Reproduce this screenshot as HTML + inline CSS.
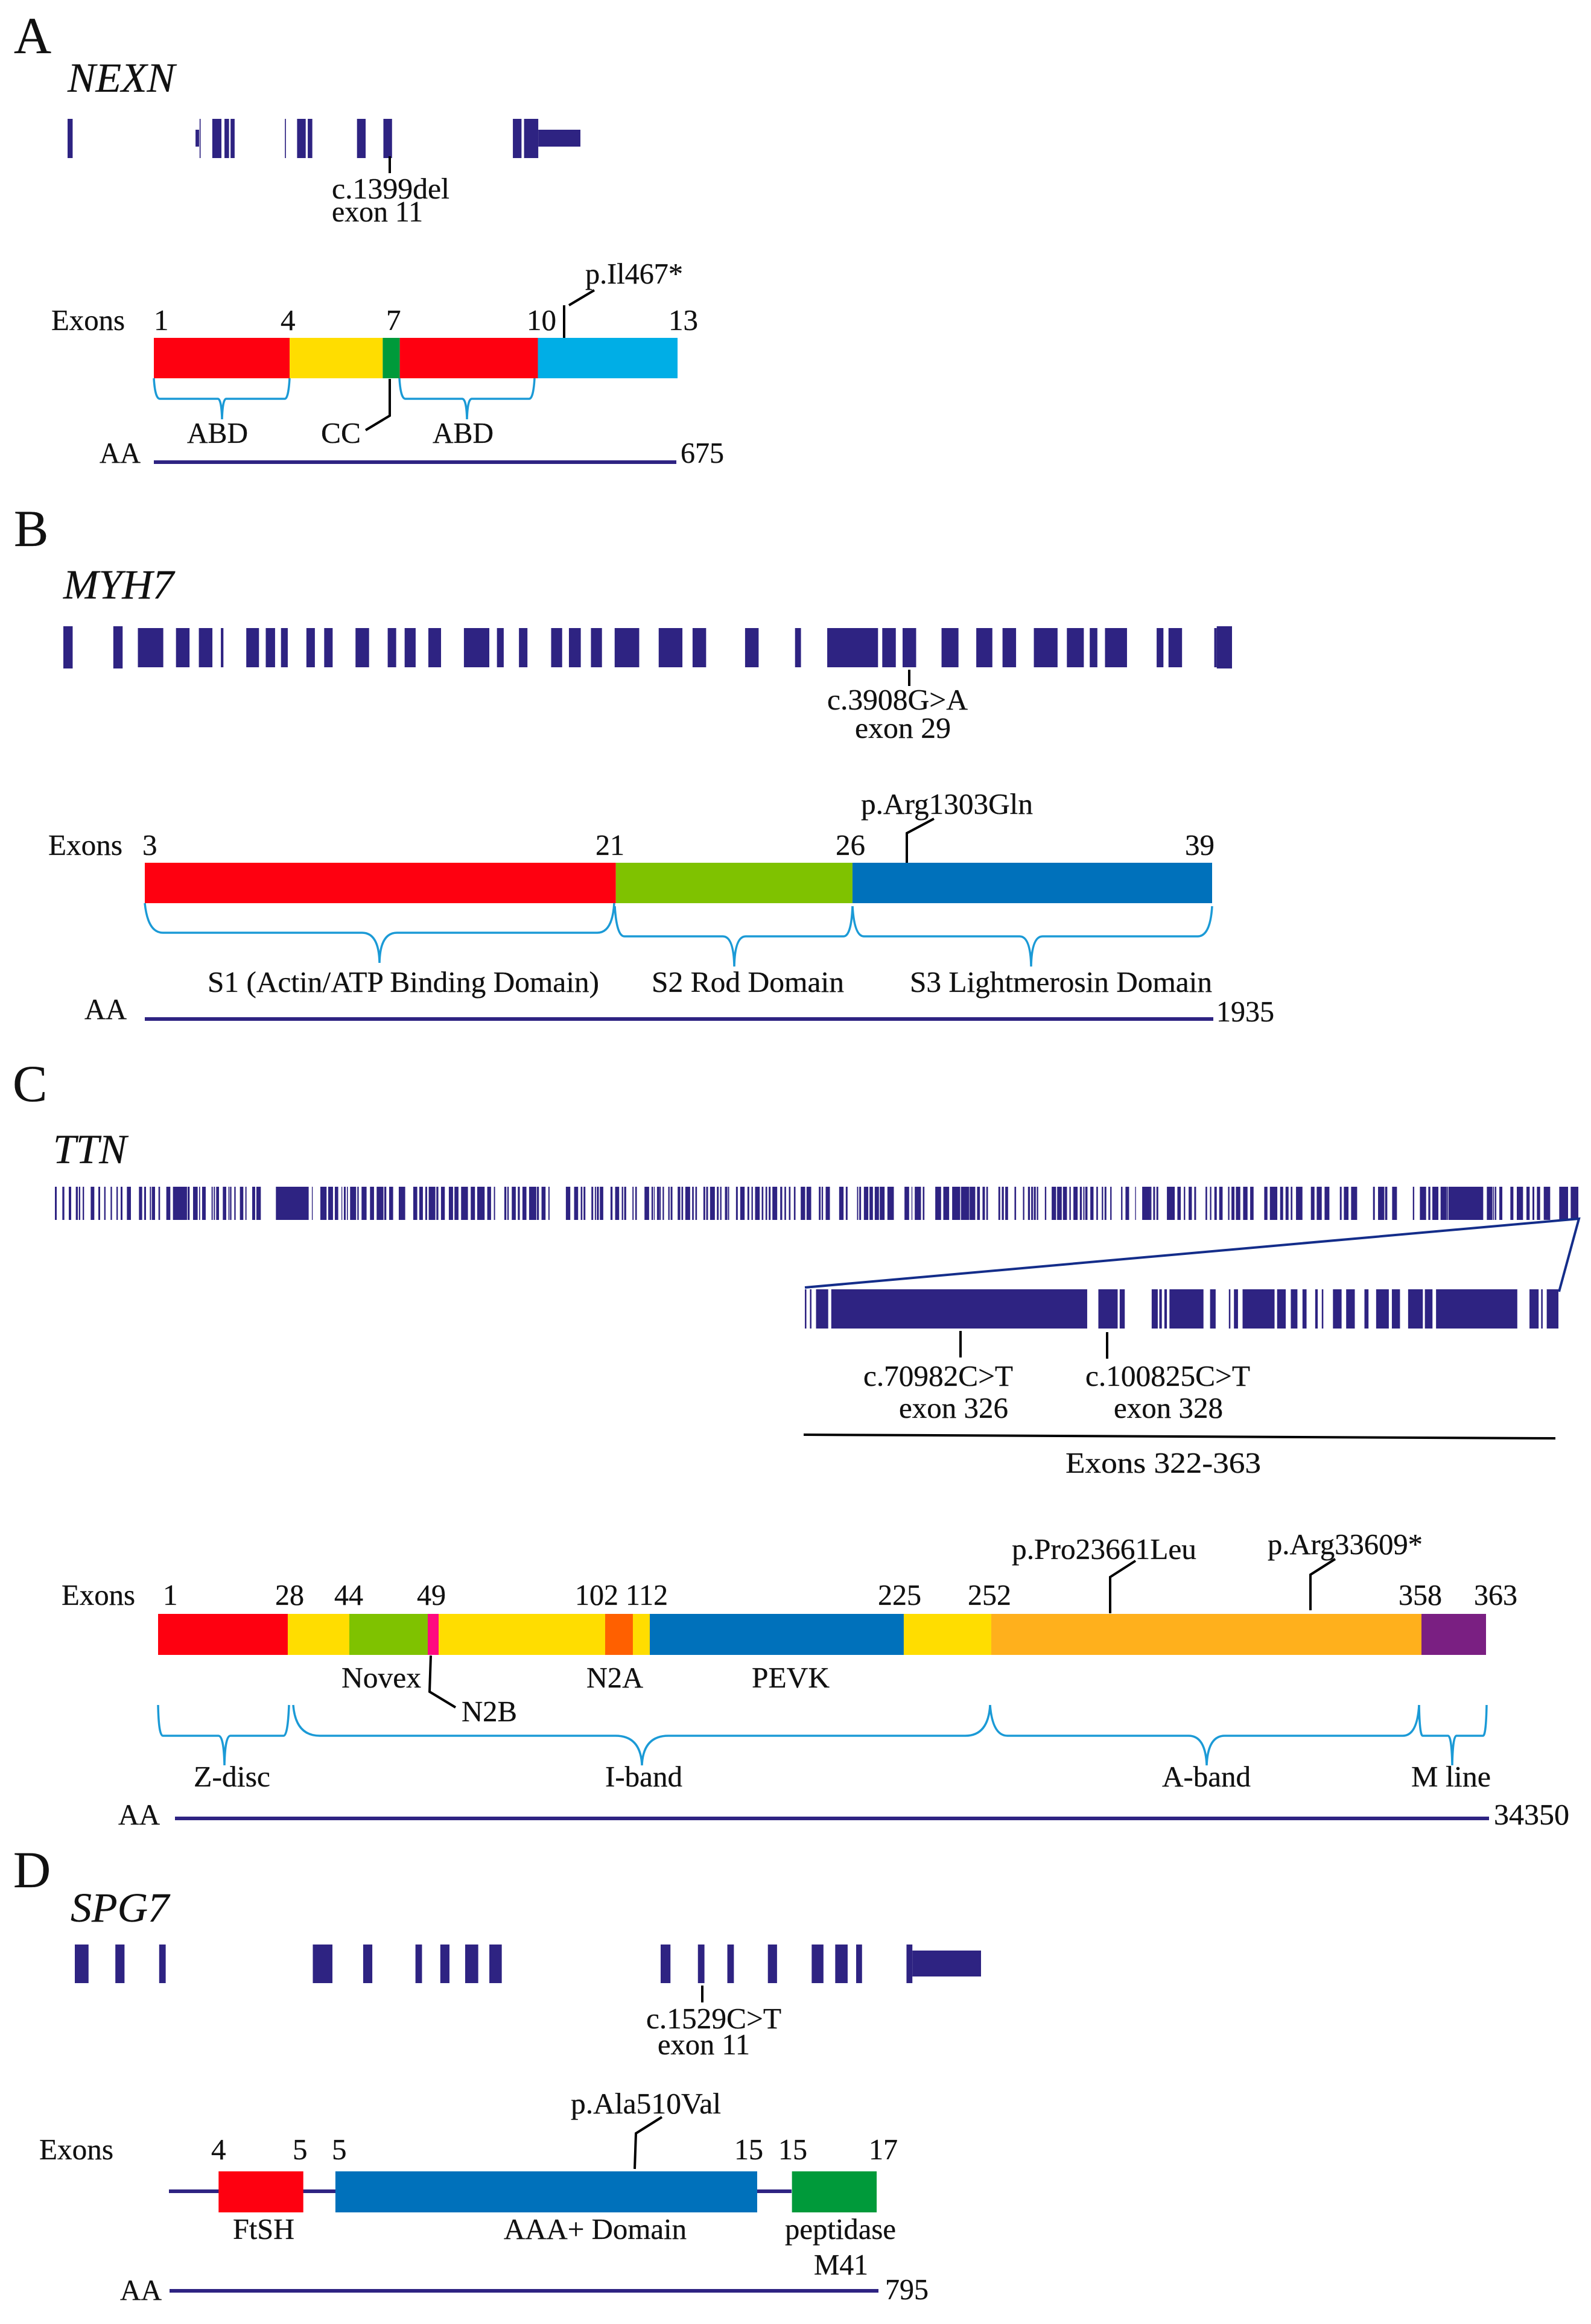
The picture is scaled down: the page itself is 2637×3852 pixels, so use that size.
<!DOCTYPE html>
<html lang="en">
<head>
<meta charset="utf-8">
<title>Gene and protein schematics: NEXN, MYH7, TTN, SPG7</title>
<style>
html,body{margin:0;padding:0;background:#fff;}
svg{display:block;}
text{font-family:"Liberation Serif","Times New Roman",serif;fill:#111;font-size:49px;stroke:#111;stroke-width:0.3;}
.p{font-size:86px;}
.g{font-size:69px;font-style:italic;}
.c{fill:none;stroke:#000;stroke-width:4;}
.b{fill:none;stroke:#1b9ad6;stroke-width:3.5;}
.a{stroke:#2e2382;stroke-width:6;}
</style>
</head>
<body>
<svg xmlns="http://www.w3.org/2000/svg" width="2637" height="3852" viewBox="0 0 2637 3852">
<rect x="0" y="0" width="2637" height="3852" fill="#fff"/>

<!-- Panel A -->
<g>
<text class="p" x="23" y="88">A</text>
<text class="g" x="112" y="152" textLength="178" lengthAdjust="spacingAndGlyphs">NEXN</text>
<g id="nexn-track"></g>
<path class="c" d="M646 259V287"/>
<text x="550" y="329" textLength="195" lengthAdjust="spacingAndGlyphs">c.1399del</text>
<text x="550" y="367" textLength="151" lengthAdjust="spacingAndGlyphs">exon 11</text>
<text x="85" y="547" textLength="122" lengthAdjust="spacingAndGlyphs">Exons</text>
<text x="255" y="547">1</text>
<text x="465" y="547">4</text>
<text x="640" y="547">7</text>
<text x="873" y="547" textLength="49" lengthAdjust="spacingAndGlyphs">10</text>
<text x="1108" y="547" textLength="49" lengthAdjust="spacingAndGlyphs">13</text>
<text x="970" y="470" textLength="162" lengthAdjust="spacingAndGlyphs">p.Il467*</text>
<path class="c" d="M935 560V506M943 506L985 481"/>
<g id="nexn-domains"></g>
<path class="b" d="M255 627Q257 661 265 661L361 661Q367 661 368 695Q369 661 375 661L472 661Q478 661 480 627"/>
<path class="b" d="M662 627Q664 661 672 661L766 661Q773 661 774 695Q775 661 782 661L877 661Q884 661 886 627"/>
<path class="c" d="M646 628V689L606 713"/>
<text x="310" y="734" textLength="101" lengthAdjust="spacingAndGlyphs">ABD</text>
<text x="532" y="734" textLength="66" lengthAdjust="spacingAndGlyphs">CC</text>
<text x="717" y="734" textLength="101" lengthAdjust="spacingAndGlyphs">ABD</text>
<text x="165" y="767" textLength="68" lengthAdjust="spacingAndGlyphs">AA</text>
<line class="a" x1="255" y1="766" x2="1121" y2="766"/>
<text x="1128" y="767" textLength="72" lengthAdjust="spacingAndGlyphs">675</text>
</g>

<!-- Panel B -->
<g>
<text class="p" x="23" y="905">B</text>
<text class="g" x="105" y="992" textLength="183" lengthAdjust="spacingAndGlyphs">MYH7</text>
<g id="myh7-track"></g>
<path class="c" d="M1507 1110V1137"/>
<text x="1371" y="1176" textLength="233" lengthAdjust="spacingAndGlyphs">c.3908G&gt;A</text>
<text x="1417" y="1223" textLength="159" lengthAdjust="spacingAndGlyphs">exon 29</text>
<text x="80" y="1417" textLength="123" lengthAdjust="spacingAndGlyphs">Exons</text>
<text x="236" y="1417">3</text>
<text x="987" y="1417" textLength="48" lengthAdjust="spacingAndGlyphs">21</text>
<text x="1385" y="1417" textLength="49" lengthAdjust="spacingAndGlyphs">26</text>
<text x="1964" y="1417" textLength="49" lengthAdjust="spacingAndGlyphs">39</text>
<text x="1427" y="1349" textLength="285" lengthAdjust="spacingAndGlyphs">p.Arg1303Gln</text>
<path class="c" d="M1503 1430V1381L1548 1357"/>
<g id="myh7-domains"></g>
<path class="b" d="M240 1497Q245 1546 270 1546L600 1546Q628 1546 629 1596Q630 1546 658 1546L990 1546Q1015 1546 1018 1497"/>
<path class="b" d="M1019 1502Q1022 1552 1035 1552L1198 1552Q1216 1552 1217 1602Q1218 1552 1236 1552L1398 1552Q1411 1552 1413 1502"/>
<path class="b" d="M1413 1502Q1416 1552 1432 1552L1690 1552Q1708 1552 1709 1602Q1710 1552 1728 1552L1985 1552Q2006 1552 2009 1502"/>
<text x="344" y="1644" textLength="649" lengthAdjust="spacingAndGlyphs">S1 (Actin/ATP Binding Domain)</text>
<text x="1080" y="1644" textLength="319" lengthAdjust="spacingAndGlyphs">S2 Rod Domain</text>
<text x="1508" y="1644" textLength="501" lengthAdjust="spacingAndGlyphs">S3 Lightmerosin Domain</text>
<text x="140" y="1689" textLength="70" lengthAdjust="spacingAndGlyphs">AA</text>
<line class="a" x1="240" y1="1689" x2="2011" y2="1689"/>
<text x="2016" y="1693" textLength="96" lengthAdjust="spacingAndGlyphs">1935</text>
</g>

<!-- Panel C -->
<g>
<text class="p" x="21" y="1825">C</text>
<text class="g" x="88" y="1928" textLength="122" lengthAdjust="spacingAndGlyphs">TTN</text>
<g id="ttn-track"></g>
<path d="M1334 2134L2617 2020L2584 2141" fill="none" stroke="#142d8a" stroke-width="4"/>
<g id="ttn-inset"></g>
<path class="c" d="M1592 2206V2250"/>
<path class="c" d="M1835 2208V2252"/>
<text x="1431" y="2297" textLength="248" lengthAdjust="spacingAndGlyphs">c.70982C&gt;T</text>
<text x="1490" y="2350" textLength="181" lengthAdjust="spacingAndGlyphs">exon 326</text>
<text x="1799" y="2297" textLength="273" lengthAdjust="spacingAndGlyphs">c.100825C&gt;T</text>
<text x="1846" y="2350" textLength="181" lengthAdjust="spacingAndGlyphs">exon 328</text>
<line x1="1332" y1="2378" x2="2578" y2="2384" stroke="#000" stroke-width="4"/>
<text x="1766" y="2441" textLength="324" lengthAdjust="spacingAndGlyphs">Exons 322-363</text>

<text x="1677" y="2584" textLength="306" lengthAdjust="spacingAndGlyphs">p.Pro23661Leu</text>
<text x="2101" y="2576" textLength="257" lengthAdjust="spacingAndGlyphs">p.Arg33609*</text>
<path class="c" d="M1840 2674V2614L1882 2587"/>
<path class="c" d="M2172 2669V2610L2213 2584"/>
<text x="102" y="2660" textLength="122" lengthAdjust="spacingAndGlyphs">Exons</text>
<text x="270" y="2660">1</text>
<text x="456" y="2660" textLength="48" lengthAdjust="spacingAndGlyphs">28</text>
<text x="554" y="2660" textLength="48" lengthAdjust="spacingAndGlyphs">44</text>
<text x="691" y="2660" textLength="48" lengthAdjust="spacingAndGlyphs">49</text>
<text x="953" y="2660" textLength="72" lengthAdjust="spacingAndGlyphs">102</text>
<text x="1037" y="2660" textLength="70" lengthAdjust="spacingAndGlyphs">112</text>
<text x="1455" y="2660" textLength="72" lengthAdjust="spacingAndGlyphs">225</text>
<text x="1604" y="2660" textLength="72" lengthAdjust="spacingAndGlyphs">252</text>
<text x="2318" y="2660" textLength="72" lengthAdjust="spacingAndGlyphs">358</text>
<text x="2443" y="2660" textLength="72" lengthAdjust="spacingAndGlyphs">363</text>
<g id="ttn-domains"></g>
<path class="c" d="M714 2744L712 2804L755 2830"/>
<text x="566" y="2797" textLength="132" lengthAdjust="spacingAndGlyphs">Novex</text>
<text x="972" y="2797" textLength="94" lengthAdjust="spacingAndGlyphs">N2A</text>
<text x="1246" y="2797" textLength="129" lengthAdjust="spacingAndGlyphs">PEVK</text>
<text x="765" y="2853" textLength="92" lengthAdjust="spacingAndGlyphs">N2B</text>
<path class="b" d="M262 2826Q263 2877 270 2877L362 2877Q371 2877 372 2926Q373 2877 382 2877L470 2877Q477 2877 479 2826"/>
<path class="b" d="M486 2826Q490 2877 530 2877L1020 2877Q1062 2877 1064 2926Q1066 2877 1108 2877L1600 2877Q1638 2877 1641 2826"/>
<path class="b" d="M1641 2826Q1645 2877 1670 2877L1970 2877Q1998 2877 2000 2926Q2002 2877 2030 2877L2325 2877Q2349 2877 2352 2826"/>
<path class="b" d="M2352 2826Q2353 2877 2358 2877L2400 2877Q2406 2877 2407 2926Q2408 2877 2414 2877L2458 2877Q2463 2877 2464 2826"/>
<text x="321" y="2961" textLength="127" lengthAdjust="spacingAndGlyphs">Z-disc</text>
<text x="1003" y="2961" textLength="128" lengthAdjust="spacingAndGlyphs">I-band</text>
<text x="1926" y="2961" textLength="147" lengthAdjust="spacingAndGlyphs">A-band</text>
<text x="2339" y="2961" textLength="132" lengthAdjust="spacingAndGlyphs">M line</text>
<text x="196" y="3024" textLength="69" lengthAdjust="spacingAndGlyphs">AA</text>
<line class="a" x1="290" y1="3014" x2="2468" y2="3014"/>
<text x="2476" y="3024" textLength="125" lengthAdjust="spacingAndGlyphs">34350</text>
</g>

<!-- Panel D -->
<g>
<text class="p" x="22" y="3128">D</text>
<text class="g" x="117" y="3185" textLength="163" lengthAdjust="spacingAndGlyphs">SPG7</text>
<g id="spg7-track"></g>
<path class="c" d="M1164 3291V3319"/>
<text x="1071" y="3362" textLength="224" lengthAdjust="spacingAndGlyphs">c.1529C&gt;T</text>
<text x="1090" y="3405" textLength="153" lengthAdjust="spacingAndGlyphs">exon 11</text>
<text x="946" y="3503" textLength="249" lengthAdjust="spacingAndGlyphs">p.Ala510Val</text>
<path class="c" d="M1052 3595L1054 3536L1097 3509"/>
<text x="65" y="3579" textLength="123" lengthAdjust="spacingAndGlyphs">Exons</text>
<text x="350" y="3579">4</text>
<text x="485" y="3579">5</text>
<text x="550" y="3579">5</text>
<text x="1217" y="3579" textLength="48" lengthAdjust="spacingAndGlyphs">15</text>
<text x="1290" y="3579" textLength="48" lengthAdjust="spacingAndGlyphs">15</text>
<text x="1440" y="3579" textLength="48" lengthAdjust="spacingAndGlyphs">17</text>
<line class="a" x1="280" y1="3632" x2="1312" y2="3632"/>
<g id="spg7-domains"></g>
<text x="386" y="3711" textLength="102" lengthAdjust="spacingAndGlyphs">FtSH</text>
<text x="835" y="3711" textLength="303" lengthAdjust="spacingAndGlyphs">AAA+ Domain</text>
<text x="1301" y="3711" textLength="184" lengthAdjust="spacingAndGlyphs">peptidase</text>
<text x="1349" y="3770" textLength="90" lengthAdjust="spacingAndGlyphs">M41</text>
<text x="199" y="3812" textLength="69" lengthAdjust="spacingAndGlyphs">AA</text>
<line class="a" x1="281" y1="3797" x2="1456" y2="3797"/>
<text x="1467" y="3811" textLength="72" lengthAdjust="spacingAndGlyphs">795</text>
</g>
</svg>

<script>
// Exon positions are in track units along each gene model; domain boundaries are in amino acids.
const nexnExonStart = [0,260,285,309,321,428,452,473,570,622,877,899];
const nexnExonLen = [10,2,18,9,8,2,17,9,17,17,17,28];
const nexnUtrStart = [252,927];
const nexnUtrLen = [7,83];

const myh7ExonStart = [88,133,160,186,216,239,257,287,308,345,383,403,431,473,512,538,576,597,623,651,703,743,805,864,902,967,991,1037,1078,1109,1146,1185,1212,1230,1291,1305,1359];
const myh7ExonLen = [30,16,16,3,15,11,8,10,10,16,10,13,15,30,8,10,13,14,13,29,28,16,16,7,60,16,16,20,19,16,28,20,9,26,8,16,3];
const myh7TallStart = [0,59,1362];
const myh7TallLen = [11,11,18];

const ttnExonStart = [3,40,72,107,122,141,181,219,248,280,309,330,361,421,447,475,485,518,557,590,663,690,720,735,782,793,805,838,866,874,895,923,950,984,1005,1102,1281,1323,1362,1395,1428,1440,1455,1471,1507,1528,
1570,1603,1641,1665,1713,1785,1815,1845,1862,1900,1923,1962,1990,2023,2071,2103,2153,2186,2238,2253,2275,2305,2328,2361,2400,2423,2457,2544,2585,2618,2632,2671,2688,2698,2713,2766,2789,2822,2834,2875,2889,2935,2970,2982,2997,3010,3025,3053,3065,
3100,3119,3138,3172,3188,3228,3242,3261,3295,3311,3335,3350,3390,3411,3447,3467,3485,3518,3537,3553,3571,3610,3631,3653,3678,3712,3741,3802,3816,3836,3903,3936,3992,4003,4026,4054,4080,4105,4143,4228,4263,4279,4319,4381,4421,4465,4509,4552,4589,4616,4635,
4695,4712,4729,4775,4817,4842,4858,4871,4886,4926,4960,4987,5016,5048,5068,5100,5117,5127,5152,5182,5209,5223,5251,5305,5327,5375,5410,5450,5465,5481,5533,5585,5617,5641,5669,5725,5747,5769,5793,5837,5854,5876,5912,5947,6017,6045,6096,6123,6149,6175,
6249,6278,6317,6393,6413,6449,6558,6583,6618,6653,6756,6791,6833,6853,6894,6924,6933,7124,7155,7164,7186,7241,7273,7321,7351,7373,7407,7484,7541];
const ttnExonLen = [9,10,12,10,7,7,18,9,7,7,7,9,20,16,9,6,16,8,20,70,10,23,5,18,6,6,14,17,5,7,7,17,6,15,22,163,4,31,24,17,4,9,5,30,7,25,
20,34,10,20,32,20,18,9,33,10,19,21,20,34,21,37,19,6,10,7,20,10,20,36,10,20,6,22,20,8,9,9,6,10,17,10,20,7,10,6,8,23,8,4,12,6,7,7,9,
13,8,24,8,8,9,9,24,9,7,12,6,9,22,9,7,23,8,8,9,24,10,8,8,8,22,23,9,7,21,22,9,6,9,22,17,21,24,32,23,4,31,8,29,29,40,41,28,14,12,8,
9,10,14,8,7,10,9,10,7,7,22,23,20,7,21,10,6,11,16,8,7,9,7,7,18,4,40,6,9,9,39,17,7,16,9,8,7,12,17,7,15,22,22,17,16,37,15,15,8,32,
18,25,24,9,23,30,9,31,11,24,7,31,10,30,29,6,173,28,5,7,15,15,31,16,9,16,32,44,38];

const insetExonStart = [0,10,22,52,578,620,683,698,708,718,798,835,845,862,930,957,980,1005,1018,1040,1066,1102,1125,1156,1188,1221,1243,1427,1450,1461];
const insetExonLen = [3,3,24,504,38,10,12,5,5,67,11,3,8,63,17,13,8,5,3,17,17,8,25,16,29,15,160,18,3,23];

const spg7ExonStart = [0,62,129,364,441,521,559,597,634,896,953,998,1060,1127,1163,1195,1272];
const spg7ExonLen = [21,14,10,30,14,10,14,20,19,15,10,10,14,18,19,9,9];
const spg7UtrStart = [1281];
const spg7UtrLen = [105];

const nexnBoundaries = [0,175,295,317,495,675];
const myh7Boundaries = [0,854,1283,1935];
const ttnBoundaries = [0,3355,4947,6976,7257,11564,12282,12719,19289,21552,32680,34350];
const spg7DomainStart = [55,186,698];
const spg7DomainEnd = [150,659,793];

const NAVY = '#2e2382';
const RED = '#fe0010', YELLOW = '#ffdd00', GREEN = '#009a3a', CYAN = '#00aee6';
const LIME = '#7fc200', BLUE = '#0071bb', PINK = '#ff0a80', ORANGE = '#ff6000', AMBER = '#ffb01c', PURPLE = '#7a1f82';
const nexnPalette = [RED,YELLOW,GREEN,RED,CYAN];
const myh7Palette = [RED,LIME,BLUE];
const ttnPalette = [RED,YELLOW,LIME,PINK,YELLOW,ORANGE,YELLOW,BLUE,YELLOW,AMBER,PURPLE];
const spg7Palette = [RED,BLUE,GREEN];

const SVG_NS = 'http://www.w3.org/2000/svg';

function linearScale(d0, d1, r0, r1) {
  return function (v) { return r0 + (v - d0) * (r1 - r0) / (d1 - d0); };
}

function drawExons(groupId, starts, lens, scale, y0, y1) {
  const group = document.getElementById(groupId);
  starts.forEach(function (s, i) {
    const el = document.createElementNS(SVG_NS, 'rect');
    
    
    el.setAttribute('x', scale(s));
    el.setAttribute('width', scale(s + lens[i]) - scale(s));
    el.setAttribute('y', y0);
    el.setAttribute('height', y1 - y0);
    el.setAttribute('fill', NAVY);
    group.appendChild(el);
  });
}

function drawDomains(groupId, starts, ends, palette, scale, y0, y1) {
  const group = document.getElementById(groupId);
  starts.forEach(function (s, i) {
    const el = document.createElementNS(SVG_NS, 'rect');
    
    
    el.setAttribute('x', scale(s));
    el.setAttribute('width', scale(ends[i]) - scale(s));
    el.setAttribute('y', y0);
    el.setAttribute('height', y1 - y0);
    el.setAttribute('fill', palette[i]);
    group.appendChild(el);
  });
}

const xNexn = linearScale(0, 1010, 112, 962);
drawExons('nexn-track', nexnExonStart, nexnExonLen, xNexn, 197, 262);
drawExons('nexn-track', nexnUtrStart, nexnUtrLen, xNexn, 215, 243);

const xMyh7 = linearScale(0, 1380, 105, 2042);
drawExons('myh7-track', myh7ExonStart, myh7ExonLen, xMyh7, 1041, 1106);
drawExons('myh7-track', myh7TallStart, myh7TallLen, xMyh7, 1038, 1108);

const xTtn = linearScale(0, 7579, 90, 2616);
drawExons('ttn-track', ttnExonStart, ttnExonLen, xTtn, 1967, 2022);

const xInset = linearScale(0, 1484, 1334, 2583);
drawExons('ttn-inset', insetExonStart, insetExonLen, xInset, 2137, 2202);

const xSpg7 = linearScale(0, 1386, 124, 1626);
drawExons('spg7-track', spg7ExonStart, spg7ExonLen, xSpg7, 3223, 3287);
drawExons('spg7-track', spg7UtrStart, spg7UtrLen, xSpg7, 3233, 3276);

drawDomains('nexn-domains', nexnBoundaries.slice(0, -1), nexnBoundaries.slice(1), nexnPalette, linearScale(0, 675, 255, 1123), 560, 627);
drawDomains('myh7-domains', myh7Boundaries.slice(0, -1), myh7Boundaries.slice(1), myh7Palette, linearScale(0, 1935, 240, 2009), 1430, 1497);
drawDomains('ttn-domains', ttnBoundaries.slice(0, -1), ttnBoundaries.slice(1), ttnPalette, linearScale(0, 34350, 262, 2463), 2675, 2743);
drawDomains('spg7-domains', spg7DomainStart, spg7DomainEnd, spg7Palette, linearScale(0, 795, 281, 1456), 3599, 3667);
</script>
</body>
</html>
